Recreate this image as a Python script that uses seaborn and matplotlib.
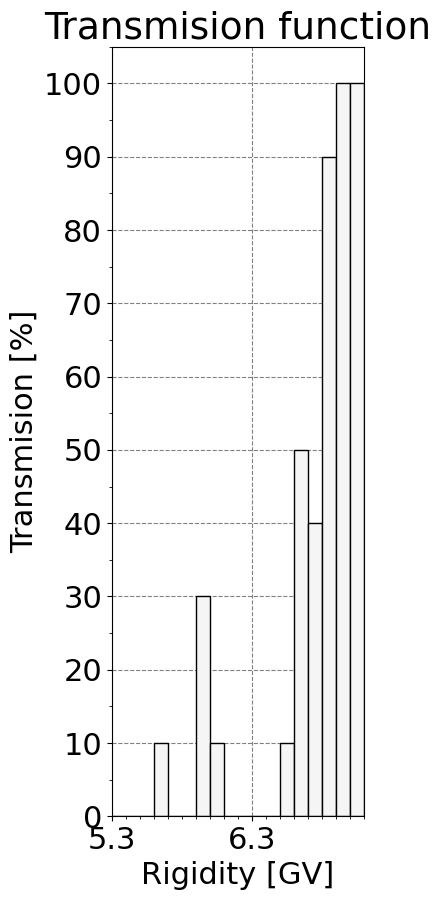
import pandas as pd
import matplotlib
matplotlib.use("Agg")
import matplotlib.pyplot as plt
from matplotlib.ticker import MultipleLocator
import seaborn as sns

# bin starts (GV) and transmission per bin (%)
rigidity = [5.3, 5.4, 5.5, 5.6, 5.7, 5.8, 5.9, 6.0, 6.1,
            6.2, 6.3, 6.4, 6.5, 6.6, 6.7, 6.8, 6.9, 7.0]
transmision = [0, 0, 0, 10, 0, 0, 30, 10, 0,
               0, 0, 0, 10, 50, 40, 90, 100, 100]

bin_width = 0.1
df = pd.DataFrame({"center": [r + bin_width / 2 for r in rigidity],
                   "trans": transmision})

fig, ax = plt.subplots(figsize=(4.37, 9), dpi=100)
fig.subplots_adjust(left=0.256, right=0.833, top=0.948, bottom=0.093)

sns.histplot(data=df, x="center", weights="trans", binwidth=bin_width,
             binrange=(rigidity[0], rigidity[-1] + bin_width), ax=ax,
             color="whitesmoke", edgecolor="black", linewidth=1, alpha=1)

ax.set_xlim(5.3, 7.1)
ax.set_ylim(0, 105)
ax.xaxis.set_minor_locator(MultipleLocator(0.1))
ax.yaxis.set_major_locator(MultipleLocator(10))
ax.yaxis.set_minor_locator(MultipleLocator(5))
ax.set_xticks([5.3, 6.3])
ax.set_xticklabels(["5.3", "6.3"])
ax.grid(True, which="major", linestyle="--", color="gray", linewidth=0.8)
ax.set_axisbelow(True)

ax.tick_params(axis="both", which="major", labelsize=22)
ax.set_xlabel("Rigidity [GV]", fontsize=22)
ax.set_ylabel("Transmision [%]", fontsize=22)
ax.set_title("Transmision function", fontsize=27)

plt.savefig("out.png", dpi=100)
